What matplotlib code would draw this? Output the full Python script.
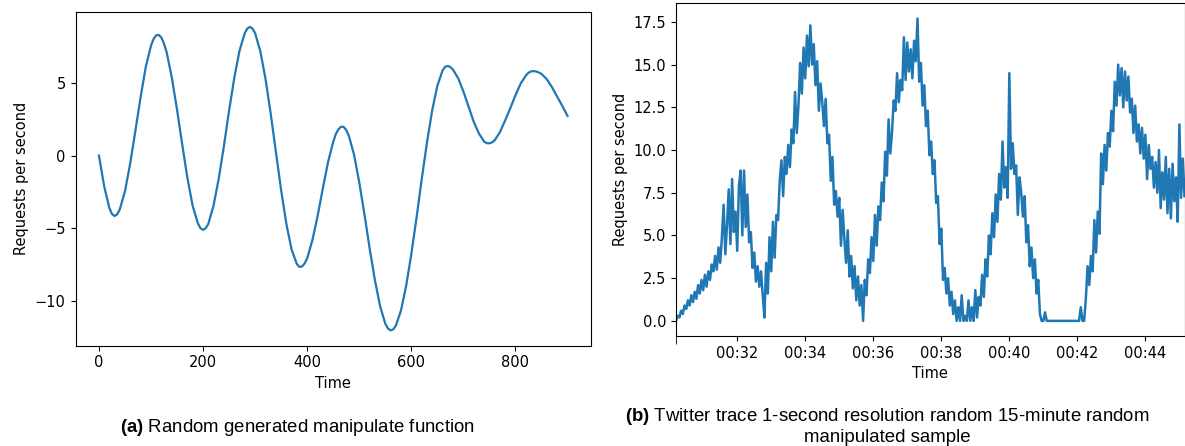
import matplotlib
matplotlib.use('Agg')
import matplotlib.pyplot as plt
import matplotlib.dates as mdates
from matplotlib.ticker import FixedLocator
from datetime import datetime, timedelta

# (a) manipulate function (denser around the turning points)
func_time = [
    0, 10, 20, 25, 30, 35, 40, 50, 60, 70, 80, 90, 100, 105, 110, 115, 120, 125,
    130, 140, 150, 160, 170, 180, 190, 195, 200, 205, 210, 220, 230, 240, 250,
    260, 270, 280, 285, 290, 295, 300, 310, 320, 330, 340, 350, 360, 370, 380,
    385, 390, 395, 400, 410, 420, 430, 440, 450, 455, 460, 465, 470, 475, 480,
    490, 500, 510, 520, 530, 540, 550, 555, 560, 565, 570, 580, 590, 600, 610,
    620, 630, 640, 650, 660, 665, 670, 675, 680, 690, 700, 710, 720, 730, 740,
    745, 750, 755, 760, 770, 780, 790, 800, 810, 820, 825, 830, 835, 840, 845,
    850, 860, 870, 880, 890, 900,
]
func_rps = [
    0.0, -2.1, -3.6, -4.01, -4.15, -4.04, -3.7, -2.45, -0.55, 1.7, 4.0, 6.1, 7.55, 8.01, 8.26, 8.28, 8.1, 7.68,
    7.1, 5.35, 3.15, 0.75, -1.55, -3.45, -4.65, -4.99, -5.1, -4.99, -4.7, -3.45, -1.6, 0.65, 3.1,
    5.35, 7.2, 8.4, 8.72, 8.83, 8.72, 8.4, 7.15, 5.25, 2.85, 0.2, -2.4, -4.7, -6.45, -7.44,
    -7.64, -7.62, -7.41, -7.05, -5.8, -4.15, -2.25, -0.45, 0.95, 1.48, 1.8, 1.98, 1.97, 1.75, 1.35,
    0.05, -1.85, -4.05, -6.4, -8.55, -10.35, -11.55, -11.87, -12.0, -11.94, -11.7, -10.65, -8.95, -6.75, -4.25,
    -1.6, 0.9, 3.1, 4.8, 5.85, 6.1, 6.15, 6.08, 5.9, 5.3, 4.4, 3.35, 2.3, 1.5, 0.95,
    0.85, 0.84, 0.91, 1.05, 1.6, 2.4, 3.25, 4.15, 4.95, 5.5, 5.69, 5.78, 5.8, 5.77, 5.7,
    5.6, 5.25, 4.7, 4.05, 3.4, 2.72,
]

# (b) twitter trace, one value every 3 seconds from 00:30:12
trace_start = datetime(2020, 1, 1, 0, 30, 12)
trace_step_s = 3
twitter_rps = [
    # 00:30:12
    0.0, 0.3, 0.2, 0.6, 0.4, 0.9, 0.7, 1.2, 0.9, 1.5, 1.1, 1.7, 1.3, 2.1, 1.6, 2.4, 1.8, 2.7, 2.0, 2.9,
    2.4, 3.3, 2.9, 3.8, 3.0, 4.3, 3.4, 4.9, 6.8, 3.9, 5.6, 7.7, 4.5, 8.3, 5.2, 6.4, 4.1, 7.9, 8.8, 5.0,
    8.8, 5.5, 7.4, 4.6, 5.2, 3.1, 4.0, 2.3, 3.2, 2.0, 2.9, 1.5, 0.2, 3.4, 1.6, 4.9, 2.9, 5.8, 3.7, 6.2,
    5.9, 8.2, 9.4, 7.3, 9.6, 8.6, 10.3, 9.0, 11.2, 10.4, 13.4, 11.0, 12.6, 15.1, 13.3, 16.0, 14.2, 16.7, 14.9, 17.3,
    15.0, 16.2, 13.8, 15.2, 12.3, 13.9, 12.8, 11.4, 13.0, 10.4, 10.9, 8.2, 9.6, 6.8, 7.6, 6.1, 7.2, 4.4, 6.5, 4.8,
    # 00:35:12
    3.4, 5.3, 2.6, 3.8, 1.9, 3.2, 1.2, 2.6, 0.9, 2.1, 0.0, 2.4, 1.5, 3.6, 2.8, 4.9, 3.5, 6.2, 4.4, 6.7,
    5.9, 8.1, 7.0, 9.9, 8.5, 11.8, 9.8, 11.0, 12.9, 12.3, 14.5, 12.8, 14.1, 13.5, 16.6, 14.1, 16.3, 14.6, 15.9, 14.2,
    16.4, 15.2, 17.7, 14.0, 15.1, 12.6, 13.8, 11.4, 12.3, 9.7, 10.5, 8.6, 9.4, 6.9, 7.3, 4.5, 5.4, 2.4, 3.1, 1.6,
    2.5, 0.9, 1.7, 0.4, 1.2, 0.0, 0.8, 0.0, 1.5, 0.0, 0.3, 0.0, 1.2, 0.0, 0.8, 0.0, 1.8, 0.2, 1.4, 0.9,
    2.7, 1.4, 3.6, 2.6, 5.0, 3.9, 6.3, 4.9, 7.4, 5.8, 8.6, 7.1, 10.5, 7.8, 9.0, 7.2, 14.5, 8.9, 10.4, 8.6,
    # 00:40:12
    9.1, 6.2, 8.4, 7.5, 6.1, 7.3, 4.6, 5.6, 3.2, 4.3, 2.5, 3.6, 1.6, 2.4, 0.4, 0.0, 0.0, 0.5, 0.0, 0.0,
    0.0, 0.0, 0.0, 0.0, 0.0, 0.0, 0.0, 0.0, 0.0, 0.0, 0.0, 0.0, 0.0, 0.0, 0.0, 0.0, 0.0, 0.0, 0.8, 0.0,
    0.0, 1.3, 3.2, 2.1, 3.8, 2.9, 5.9, 4.0, 6.4, 5.1, 9.8, 8.0, 10.3, 8.8, 11.0, 10.2, 12.3, 11.1, 14.0, 12.6,
    15.0, 13.2, 14.8, 12.5, 14.6, 12.9, 14.3, 12.2, 13.0, 11.0, 12.6, 10.5, 11.5, 9.8, 11.3, 9.5, 10.9, 8.3, 10.3, 8.9,
    9.6, 7.8, 9.3, 7.5, 10.0, 6.6, 8.7, 7.1, 9.6, 6.3, 8.9, 6.0, 9.2, 7.0, 8.4, 5.8, 11.5, 7.2, 9.5, 7.3,
]
trace_time = [trace_start + timedelta(seconds=trace_step_s * i) for i in range(len(twitter_rps))]

caption_a = r'$\bf{(a)}$ Random generated manipulate function'
caption_b1 = r'$\bf{(b)}$ Twitter trace 1-second resolution random 15-minute random'
caption_b2 = 'manipulated sample'

plt.rcParams['mathtext.fontset'] = 'custom'
plt.rcParams['mathtext.rm'] = 'Liberation Sans'
plt.rcParams['mathtext.bf'] = 'Liberation Sans:bold'

W, H = 1185, 446
fig = plt.figure(figsize=(W / 100, H / 100), dpi=100)
ax1 = fig.add_axes([75.5 / W, 1 - 345.5 / H, (591 - 75.5) / W, (345.5 - 11.8) / H])
ax2 = fig.add_axes([676 / W, 1 - 336 / H, (1184.5 - 676) / W, (336 - 3.4) / H])

# left: smooth function
ax1.plot(func_time, func_rps, color='#1f77b4', linewidth=1.6)
ax1.set_xlabel('Time', fontsize=10.5)
ax1.set_ylabel('Requests per second', fontsize=10.5)
ax1.tick_params(labelsize=10.5)

# right: twitter trace
ax2.plot(trace_time, twitter_rps, color='#1f77b4', linewidth=1.8)
ax2.set_xlim(trace_time[0], trace_time[-1])
ax2.xaxis.set_major_locator(mdates.MinuteLocator(byminute=range(0, 60, 2)))
ax2.xaxis.set_major_formatter(mdates.DateFormatter('%H:%M'))
ax2.xaxis.set_minor_locator(FixedLocator([mdates.date2num(trace_time[0])]))
ax2.tick_params(axis='x', which='minor', length=6)
ax2.set_xlabel('Time', fontsize=10.5)
ax2.set_ylabel('Requests per second', fontsize=10.5)
ax2.tick_params(labelsize=10.5)

fig.text(297 / W, 1 - 428 / H, caption_a, ha='center', va='center',
         fontsize=13.4, family='Liberation Sans')
fig.text(887 / W, 1 - 416.5 / H, caption_b1, ha='center', va='center',
         fontsize=13.4, family='Liberation Sans')
fig.text(887 / W, 1 - 437 / H, caption_b2, ha='center', va='center',
         fontsize=13.4, family='Liberation Sans')

fig.savefig('out.png', dpi=100)
